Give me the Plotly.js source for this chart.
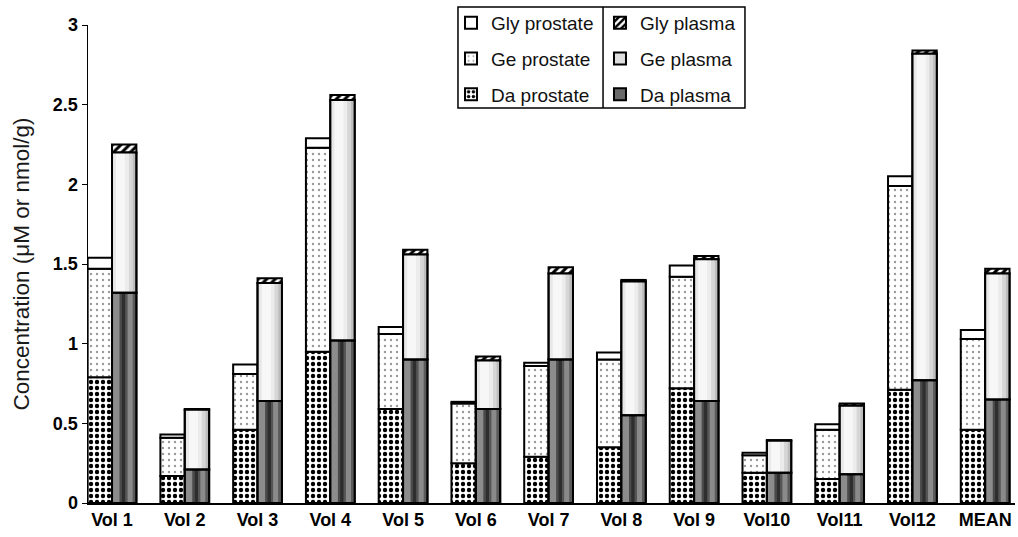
<!DOCTYPE html>
<html>
<head>
<meta charset="utf-8">
<script src="https://cdn.plot.ly/plotly-3.0.1.min.js"></script>
<style>html,body{margin:0;padding:0;background:#fff;}#chart{width:1018px;height:537px;}</style>
</head>
<body>
<div id="chart"></div>
<script>
const categories = ['Vol 1','Vol 2','Vol 3','Vol 4','Vol 5','Vol 6','Vol 7','Vol 8','Vol 9','Vol10','Vol11','Vol12','MEAN'];
const daProstate  = [0.79, 0.17, 0.46, 0.95, 0.59, 0.25, 0.29, 0.35, 0.72, 0.19, 0.15, 0.71, 0.46];
const geProstate  = [0.68, 0.24, 0.35, 1.28, 0.47, 0.375, 0.57, 0.55, 0.70, 0.11, 0.31, 1.28, 0.57];
const glyProstate = [0.07, 0.02, 0.06, 0.06, 0.045, 0.01, 0.02, 0.045, 0.07, 0.015, 0.035, 0.06, 0.055];
const daPlasma    = [1.32, 0.21, 0.64, 1.02, 0.90, 0.59, 0.90, 0.55, 0.64, 0.19, 0.18, 0.77, 0.65];
const gePlasma    = [0.88, 0.375, 0.74, 1.51, 0.66, 0.305, 0.54, 0.84, 0.89, 0.20, 0.43, 2.05, 0.79];
const glyPlasma   = [0.05, 0.005, 0.03, 0.03, 0.03, 0.025, 0.04, 0.01, 0.02, 0.005, 0.015, 0.02, 0.03];

const W = 0.335;
function add(a, b) { return a.map((v, i) => v + b[i]); }
const zeros = categories.map(() => 0);

function bar(name, y, base, offset, marker, legend, rank) {
  return {
    type: 'bar', name: name, x: categories, y: y, base: base,
    offset: offset, width: W, legend: legend, legendrank: rank,
    legendgroup: name,
    marker: Object.assign({ line: { color: '#000', width: 2 } }, marker),
    hoverinfo: 'skip'
  };
}
// shading stripe inside a plasma bar (imitates the gradient fill)
function stripe(y, base, offset, width, color) {
  return {
    type: 'bar', x: categories, y: y, base: base, offset: offset, width: width,
    marker: { color: color, line: { width: 0 } }, showlegend: false, hoverinfo: 'skip'
  };
}
// outline redrawn on top of the stripes
function outline(y, base, offset) {
  return {
    type: 'bar', x: categories, y: y, base: base, offset: offset, width: W,
    marker: { color: 'rgba(0,0,0,0)', line: { color: '#000', width: 2 } },
    showlegend: false, hoverinfo: 'skip'
  };
}

const prostOff = -W, plasOff = 0;
const gePlasmaBase = daPlasma;
const glyPlasmaBase = add(daPlasma, gePlasma);

const traces = [
  bar('Da prostate', daProstate, zeros, prostOff,
      { color: '#fff', pattern: { shape: '.', fgcolor: '#000', bgcolor: '#fff', size: 6, solidity: 0.42 } }, 'legend', 3),
  bar('Ge prostate', geProstate, daProstate, prostOff,
      { color: '#fff', pattern: { shape: '.', fgcolor: '#999', bgcolor: '#fff', size: 6, solidity: 0.12 } }, 'legend', 2),
  bar('Gly prostate', glyProstate, add(daProstate, geProstate), prostOff,
      { color: '#fff' }, 'legend', 1),
  bar('Da plasma', daPlasma, zeros, plasOff,
      { color: '#6a6a6a' }, 'legend2', 3),
  bar('Ge plasma', gePlasma, gePlasmaBase, plasOff,
      { color: '#dedede' }, 'legend2', 2),
  bar('Gly plasma', glyPlasma, glyPlasmaBase, plasOff,
      { color: '#fff', pattern: { shape: '/', fgcolor: '#000', bgcolor: '#fff', size: 6, solidity: 0.5 } }, 'legend2', 1),
  // Da plasma shading
  stripe(daPlasma, zeros, 0.015, 0.09, '#8c8c8c'),
  stripe(daPlasma, zeros, 0.105, 0.03, '#4a4a4a'),
  stripe(daPlasma, zeros, 0.135, 0.05, '#2e2e2e'),
  stripe(daPlasma, zeros, 0.185, 0.03, '#555'),
  stripe(daPlasma, zeros, 0.215, 0.07, '#8a8a8a'),
  stripe(daPlasma, zeros, 0.285, 0.035, '#5a5a5a'),
  // Ge plasma shading
  stripe(gePlasma, gePlasmaBase, 0.015, 0.04, '#e8e8e8'),
  stripe(gePlasma, gePlasmaBase, 0.055, 0.13, '#f7f7f7'),
  stripe(gePlasma, gePlasmaBase, 0.185, 0.05, '#ececec'),
  stripe(gePlasma, gePlasmaBase, 0.235, 0.05, '#d6d6d6'),
  stripe(gePlasma, gePlasmaBase, 0.285, 0.035, '#bdbdbd'),
  outline(daPlasma, zeros, plasOff),
  outline(gePlasma, gePlasmaBase, plasOff)
];

const legendCommon = {
  font: { family: 'Liberation Sans, Arial, sans-serif', size: 19, color: '#111' },
  borderwidth: 0, bgcolor: 'rgba(0,0,0,0)',
  xanchor: 'left', yanchor: 'top', tracegroupgap: 8, itemwidth: 30
};

const layout = {
  width: 1018, height: 537,
  margin: { l: 88, r: 3, t: 25, b: 34 },
  paper_bgcolor: '#fff', plot_bgcolor: '#fff',
  barmode: 'overlay',
  showlegend: true,
  font: { family: 'Liberation Sans, Arial, sans-serif', color: '#111' },
  xaxis: {
    type: 'category', range: [-0.33, 12.41],
    showline: true, linecolor: '#000', linewidth: 1.5,
    ticks: '', showgrid: false, zeroline: false,
    tickfont: { family: 'Liberation Sans, Arial, sans-serif', size: 18, color: '#000', weight: 'bold' }
  },
  yaxis: {
    range: [0, 3], tickvals: [0, 0.5, 1, 1.5, 2, 2.5, 3], ticktext: ['0','0.5','1','1.5','2','2.5','3'],
    showline: true, linecolor: '#000', linewidth: 1.5,
    ticks: 'outside', ticklen: 5, tickcolor: '#000', tickwidth: 1,
    showgrid: false, zeroline: false, automargin: false,
    tickfont: { family: 'Liberation Sans, Arial, sans-serif', size: 18, color: '#000', weight: 'bold' },
    title: { text: 'Concentration (μM or nmol/g)', font: { size: 22.5, color: '#1a1a1a' }, standoff: 17 }
  },
  legend: Object.assign({ x: 0.3916, y: 1.044 }, legendCommon),
  legend2: Object.assign({ x: 0.5523, y: 1.044 }, legendCommon),
  shapes: [
    { type: 'rect', xref: 'paper', yref: 'paper', x0: 0.3991, x1: 0.7087, y0: 0.8264, y1: 1.0377,
      line: { color: '#000', width: 1.5 }, fillcolor: '#fff', layer: 'above' },
    { type: 'line', xref: 'paper', yref: 'paper', x0: 0.5556, x1: 0.5556, y0: 0.8264, y1: 1.0377,
      line: { color: '#000', width: 1.5 }, layer: 'above' }
  ]
};

Plotly.newPlot('chart', traces, layout, { displayModeBar: false, staticPlot: true });
</script>
</body>
</html>
